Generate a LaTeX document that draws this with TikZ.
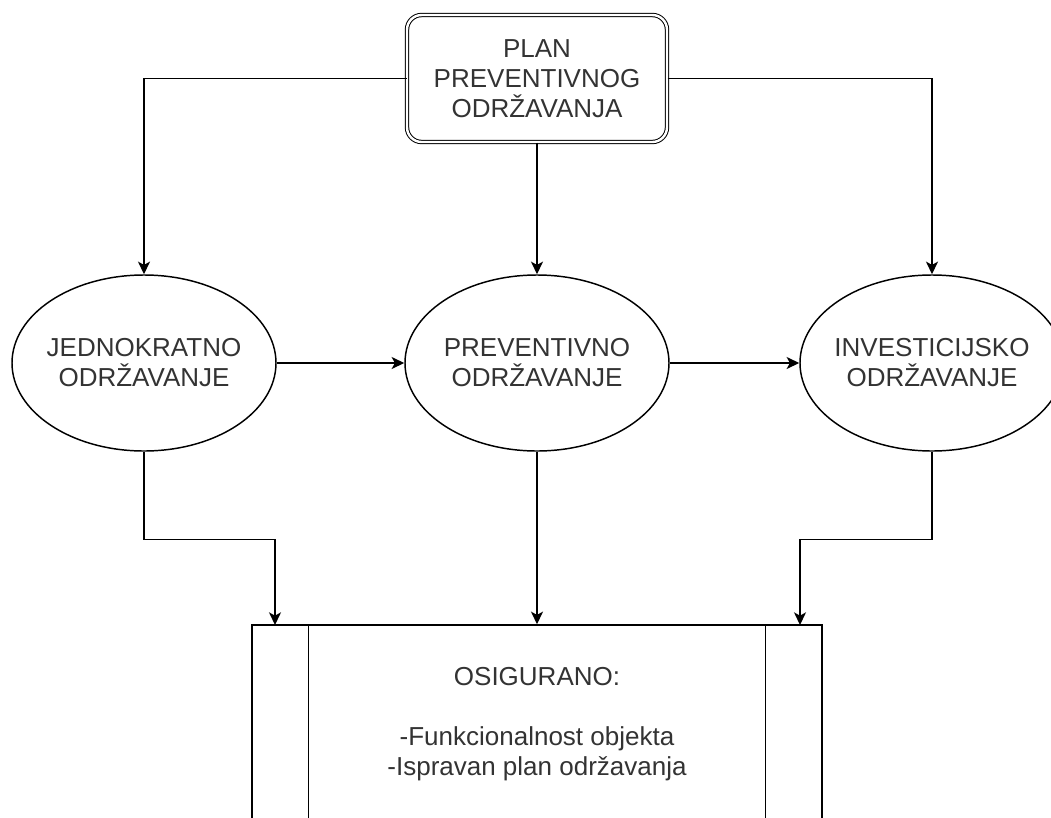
\documentclass[tikz,border=0pt]{standalone}
\usepackage{fontspec}
\setmainfont{Liberation Sans}
\usetikzlibrary{arrows.meta,shapes.geometric}
\definecolor{txtgray}{HTML}{333333}
\tikzset{
  lbl/.style={align=center, text=txtgray, font=\fontsize{19.5pt}{22.5pt}\selectfont},
  oval/.style={lbl, draw, ellipse, line width=1.1pt, inner xsep=-25pt, inner ysep=0pt, minimum width=198pt, minimum height=132pt},
}

\begin{document}
\begin{tikzpicture}[x=0.75pt, y=-0.75pt, line width=1.1pt, >={Stealth[length=9.5pt,width=9pt,inset=2.5pt]}]
        \clip (0,0) rectangle (1051,818);
        \node [lbl, draw, double, line width=0.75pt, double distance=1.8pt, rounded corners=11pt, minimum width=195pt, minimum height=95.25pt, inner sep=0pt] (T) at (537, 78.5) {PLAN\\PREVENTIVNOG\\ODRŽAVANJA};
        \node [oval] (LM) at (144, 363) {JEDNOKRATNO\\ODRŽAVANJE};
        \node [oval] (MM) at (537, 363) {PREVENTIVNO\\ODRŽAVANJE};
        \node [oval] (RM) at (932, 363) {INVESTICIJSKO\\ODRŽAVANJE};
        \node [lbl, draw, minimum width=427.5pt, minimum height=148.5pt, inner sep=0pt] (B) at (537, 724) {OSIGURANO:\\[22.5pt]-Funkcionalnost objekta\\-Ispravan plan održavanja};
        \draw ([xshift=42.75pt]B.north west) -- ([xshift=42.75pt]B.south west);
        \draw ([xshift=-42.75pt]B.north east) -- ([xshift=-42.75pt]B.south east);
        \coordinate (BL) at (275, 625);
        \coordinate (BR) at (800, 625);
        \draw [->] (T.west) -| (LM.north);
        \draw [->] (T.south) -- (MM.north);
        \draw [->] (T.east) -| (RM.north);
        \draw [->] (LM.east) -- (MM.west);
        \draw [->] (MM.east) -- (RM.west);
        \draw [->] (LM.south) -- ++(0, 88) -| (BL);
        \draw [->] (MM.south) -- (B.north);
        \draw [->] (RM.south) -- ++(0, 88) -| (BR);
\end{tikzpicture}
\end{document}
